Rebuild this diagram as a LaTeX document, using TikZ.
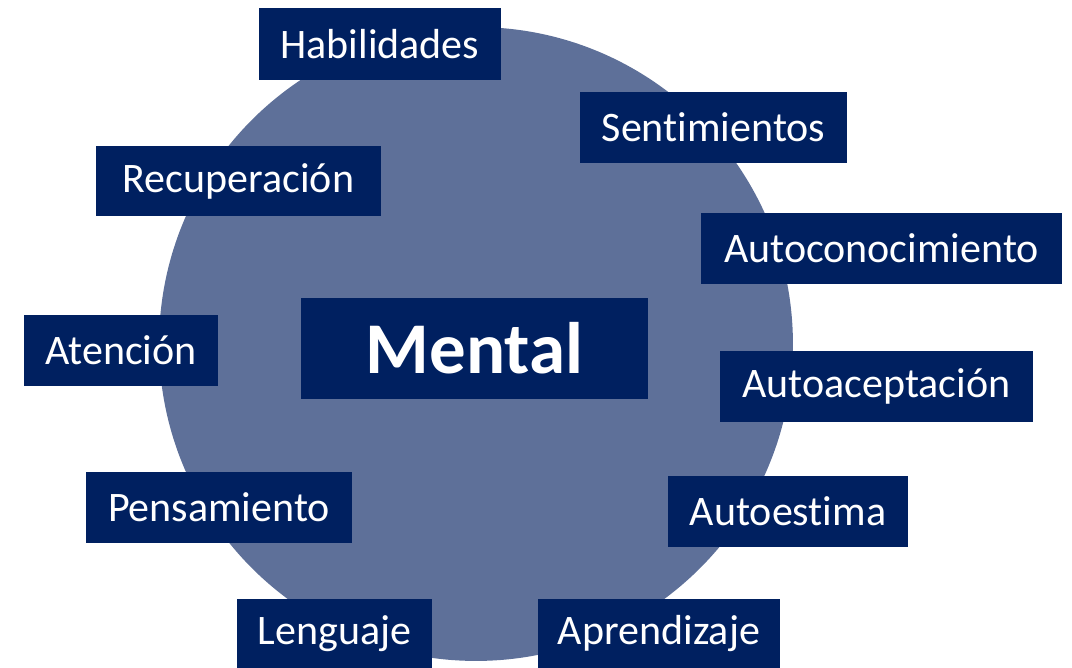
\documentclass[tikz,border=0pt]{standalone}
\usepackage{fontspec}
\setmainfont{Carlito}[Ligatures = NoCommon]
\definecolor{navy}{HTML}{002060}
\definecolor{disc}{HTML}{5E7099}
\begin{document}
\begin{tikzpicture}[x = 0.02cm, y = -0.02cm,
    every node/.style = {shape = rectangle, inner sep = 0pt},
    aspect/.style = {fill = navy, text = white, font = \fontsize{23.9}{27}\selectfont,
      minimum height = 1.42cm}]
  \useasboundingbox (0,0) rectangle (1072,668);
  % background disc
  \node[circle, fill = disc, minimum size = 12.68cm](disc) at (476,344) {};
  % centre
  \node[fill = navy, text = white, font = \fontsize{41.5}{46}\selectfont\bfseries,
    minimum width = 6.94cm, minimum height = 2.02cm](mental) at (474.5,348.5) {Mental};
  % aspects round the disc
  \node[aspect, minimum width = 4.84cm, minimum height = 1.44cm](hab) at (380,44) {Habilidades};
  \node[aspect, minimum width = 5.34cm](sent) at (713.5,127.5) {Sentimientos};
  \node[aspect, minimum width = 5.70cm](recu) at (238.5,181) {Recuperación};
  \node[aspect, minimum width = 7.22cm](autoc) at (881.5,248.5) {Autoconocimiento};
  \node[aspect, minimum width = 3.88cm](aten) at (121,350.5) {Atención};
  \node[aspect, minimum width = 6.26cm](autoa) at (876.5,386.5) {Autoaceptación};
  \node[aspect, minimum width = 5.32cm](pens) at (219,507.5) {Pensamiento};
  \node[aspect, minimum width = 4.80cm](autoe) at (788,511.5) {Autoestima};
  \node[aspect, minimum width = 3.90cm, minimum height = 1.38cm](leng) at (334.5,633.5) {Lenguaje};
  \node[aspect, minimum width = 4.84cm, minimum height = 1.38cm](apre) at (659,633.5) {Aprendizaje};
\end{tikzpicture}
\end{document}
